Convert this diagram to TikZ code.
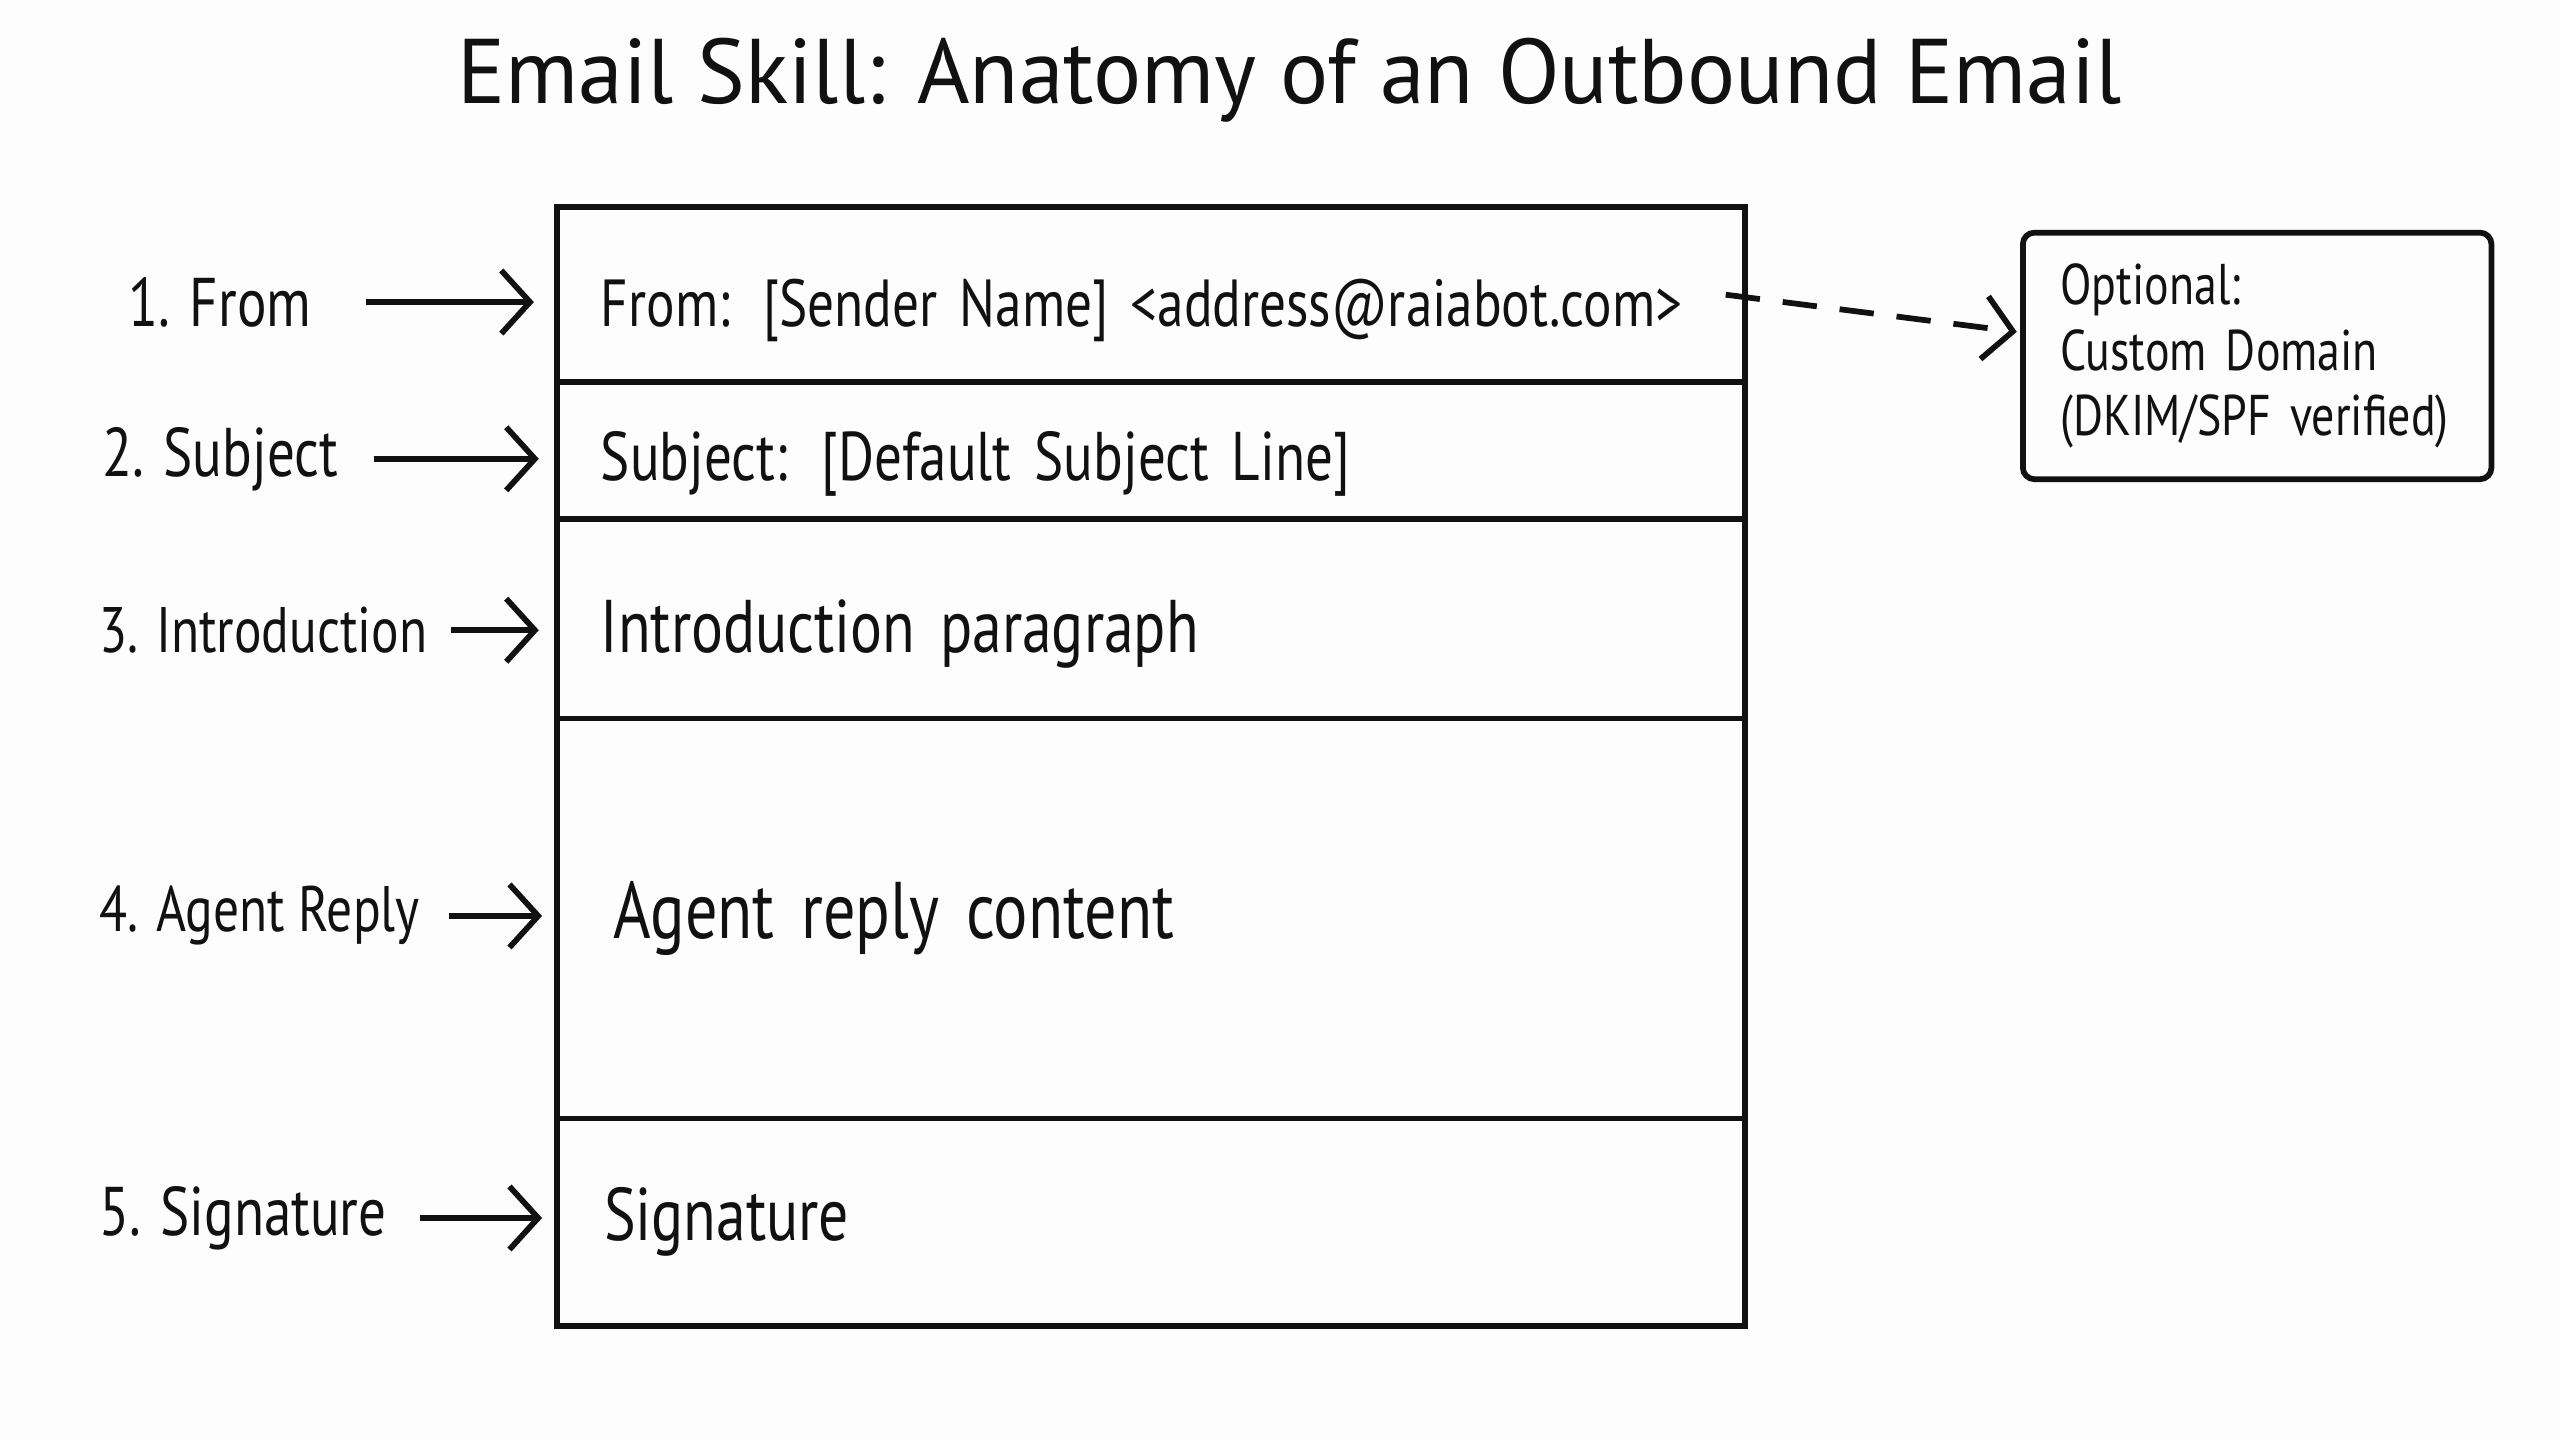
\documentclass[tikz,border=0pt]{standalone}
\usepackage{fontspec}
\setmainfont[FakeStretch=0.8]{PT Sans}
\newfontfamily\titlefont[FakeStretch=0.98]{PT Sans}
\usepackage{tikz}
\usetikzlibrary{positioning, arrows.meta}
\definecolor{ink}{HTML}{111111}
\definecolor{paper}{HTML}{FDFDFD}

\begin{document}
\begin{tikzpicture}[row/.style={draw=ink, line width=1pt, outer sep=0pt, anchor=north, text width=6.84cm, inner xsep=0.22cm, align=left, text=ink, font=\fontsize{12}{14}\selectfont},lbl/.style={anchor=west, inner xsep=0pt, text=ink, font=\fontsize{12}{14}\selectfont},ptr/.style={draw=ink, line width=1pt, -{Straight Barb[length=5pt, width=11pt]}}]
\fill[paper] (0,0) rectangle (15.68,8.82);
\useasboundingbox (0,0) rectangle (15.68,8.82);
\node[text=ink, font=\titlefont\fontsize{16}{19}\selectfont] (title) at (7.9,8.33) {Email Skill: Anatomy of an Outbound Email};
% email layout
\node[row, minimum height=1.07cm, text height=0.49cm, text depth=0.1cm, font=\fontsize{11.6}{13}\selectfont] (from) at (7.05,7.55) {\hspace{0.05cm}From: [Sender Name] <address@raiabot.com>};
\node[row, minimum height=0.84cm, text height=0.47cm, text depth=0.1cm, below=0pt of from] (subj) {\hspace{0.05cm}Subject: [Default Subject Line]};
\node[row, minimum height=1.22cm, text height=0.51cm, text depth=0.1cm, below=0pt of subj, font=\fontsize{13}{15}\selectfont] (intro) {\hspace{0.05cm}Introduction paragraph};
\node[row, minimum height=2.45cm, below=0pt of intro, font=\fontsize{14}{16}\selectfont] (reply) {\hspace{0.13cm}Agent reply content};
\node[row, minimum height=1.27cm, below=0pt of reply, font=\fontsize{13}{15}\selectfont] (sig) {\hspace{0.07cm}Signature};
% labels on the left
\node[lbl] (l1) at (0.78,6.97) {1. From};
\node[lbl] (l2) at (0.62,6.01) {2. Subject};
\node[lbl, font=\fontsize{11.2}{13}\selectfont] (l3) at (0.60,4.96) {3. Introduction};
\node[lbl, font=\fontsize{11.2}{13}\selectfont] (l4) at (0.60,3.21) {4. Agent Reply};
\node[lbl] (l5) at (0.60,1.36) {5. Signature};
\draw[ptr, shorten <=0.33cm, shorten >=0.14cm] (l1.east) -- (l1.east -| from.west);
\draw[ptr, shorten <=0.21cm, shorten >=0.11cm] (l2.east) -- (l2.east -| subj.west);
\draw[ptr, shorten <=0.14cm, shorten >=0.11cm] (l3.east) -- (l3.east -| intro.west);
\draw[ptr, shorten <=0.17cm, shorten >=0.09cm] (l4.east) -- (l4.east -| reply.west);
\draw[ptr, shorten <=0.20cm, shorten >=0.09cm] (l5.east) -- (l5.east -| sig.west);
% custom domain note
\node[draw=ink, line width=1pt, rounded corners=2pt, minimum height=1.51cm, text width=2.41cm, inner xsep=0.23cm, align=left, text=ink, font=\fontsize{10}{11.4}\selectfont] (opt) at (13.825,6.64) {Optional:\\Custom Domain\\(DKIM/SPF verified)};
\draw[ptr, dash pattern=on 6pt off 4pt, shorten >=0.02cm] ([xshift=-0.12cm]from.east) -- ([yshift=0.145cm]opt.west);
\end{tikzpicture}
\end{document}
